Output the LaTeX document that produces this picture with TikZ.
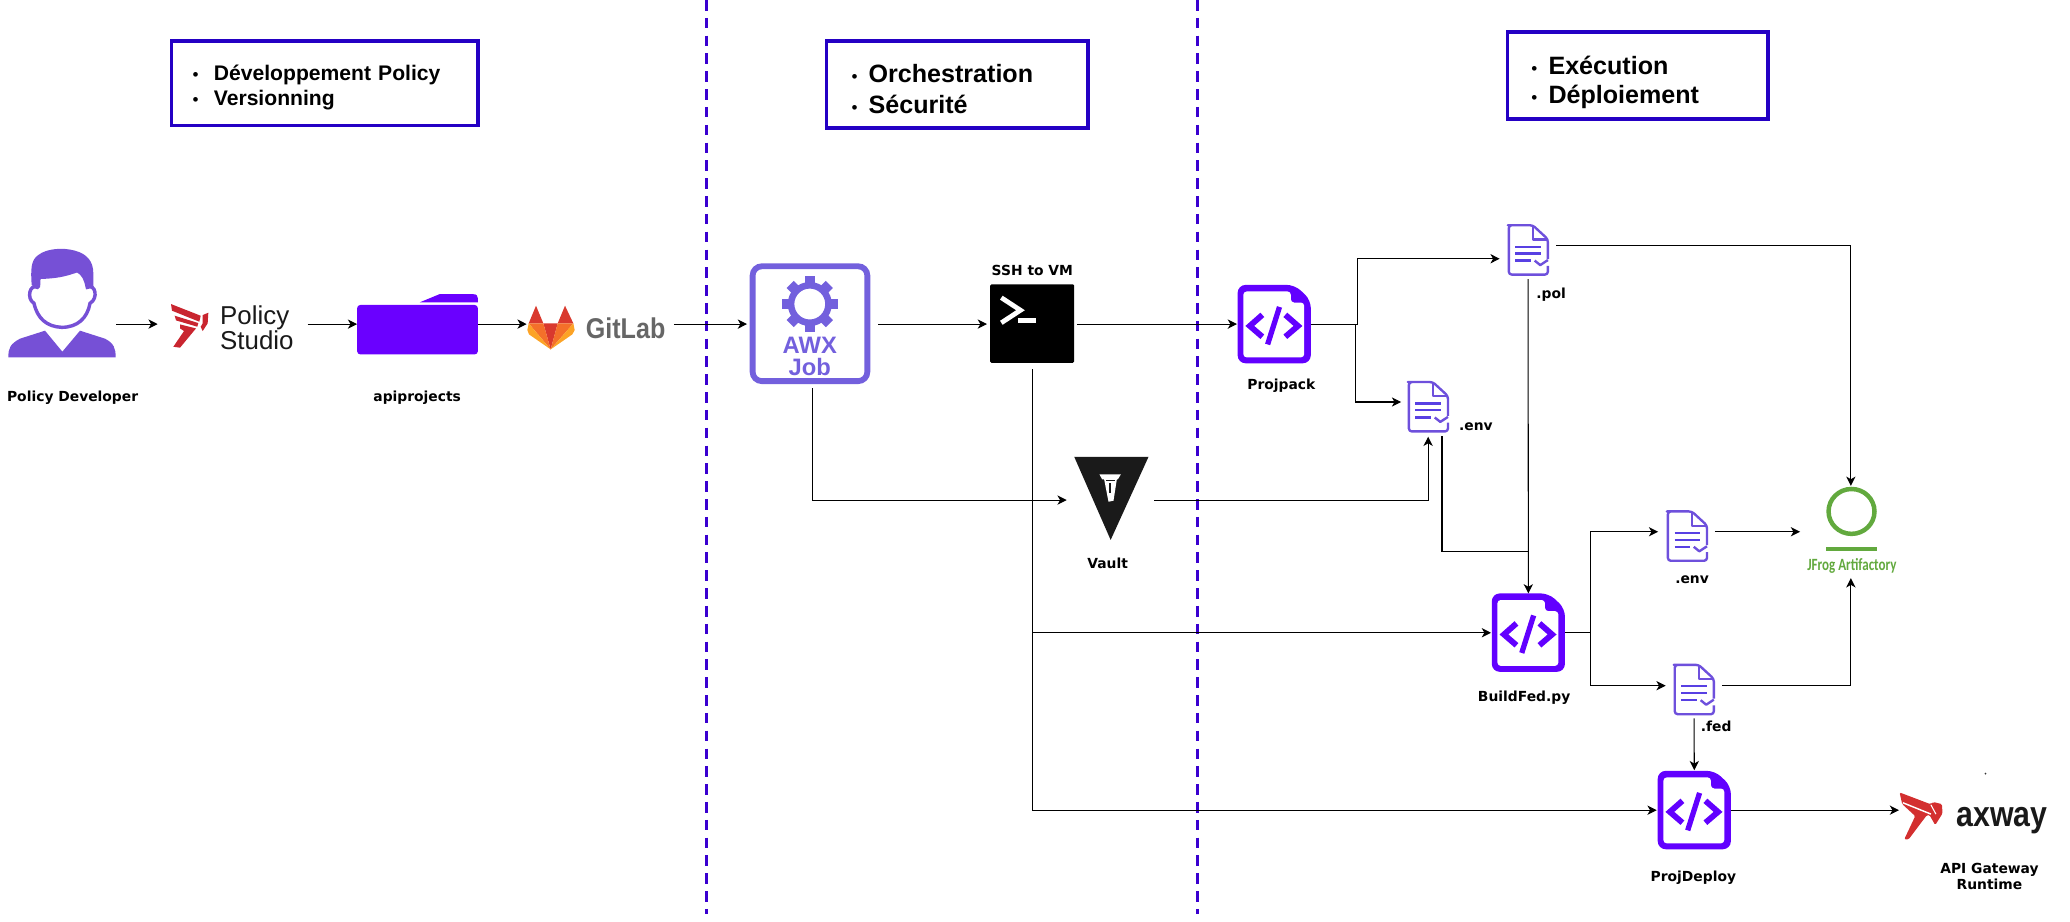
\documentclass[tikz,border=0pt]{standalone}
\usepackage{fontspec}
\usepackage{graphicx}
\setmainfont{Liberation Sans}
\newfontfamily\lblfont{DejaVu Sans}
\newfontfamily\carl{Carlito}
\usetikzlibrary{arrows.meta,calc}
\definecolor{dashc}{HTML}{3A00D0}
\definecolor{boxc}{HTML}{2400C4}
\definecolor{awxc}{HTML}{7360DD}
\definecolor{personc}{HTML}{7650D6}
\definecolor{docc}{HTML}{6E50DC}
\definecolor{codec}{HTML}{6200FF}
\definecolor{folderc}{HTML}{6A00FF}
\definecolor{redc}{HTML}{C9252F}
\definecolor{axred}{HTML}{D32F2F}
\definecolor{frogc}{HTML}{62A93E}
\definecolor{glearc}{HTML}{D9392E}
\definecolor{glmidc}{HTML}{F4702A}
\definecolor{gllowc}{HTML}{FCA326}
\definecolor{vaultc}{HTML}{1A1A1A}
\newcommand{\hbul}[1]{\makebox[#1][l]{\normalfont\fontsize{13}{1}\selectfont\textbullet}}
\tikzset{
 conn/.style={draw=black,line width=0.8pt,-{Stealth[length=7pt,width=7pt,inset=2pt]}},
 plainconn/.style={draw=black,line width=0.8pt},
 sep/.style={draw=dashc,line width=2.3pt,dash pattern=on 8pt off 5.5pt},
 hdr/.style={draw=boxc,line width=2.8pt,align=left,inner ysep=0pt,outer sep=0pt,anchor=north west},
 iconbox/.style={inner sep=0pt,outer sep=0pt,draw=none,anchor=center},
 lbl/.style={font=\lblfont\bfseries\fontsize{10.5}{12.6}\selectfont,inner sep=0pt,align=center,text=black},
 redlogo/.style={x=0.2525pt,y=-0.2525pt},
}
\newcommand{\fileicon}[2]{%
 \node[iconbox,minimum width=31pt,minimum height=38.6pt] (#1) at (#2) {};
 \begin{scope}[shift={(#1.center)}]
  \draw[docc,line width=1.8pt,line join=round,rounded corners=2.2pt]
    (15,6.8) -- (15,-8.2) -- (3.5,-18.8) -- (-13.2,-18.8) -- (-14.6,-18.8) -- (-14.6,18.6) -- (15,18.6) -- (15,12);
  \draw[docc,line width=1.7pt,line join=round] (3.6,-18.6) -- (3.6,-8) -- (15,-8);
  \draw[docc!80!blue,line width=1.7pt] (-9.6,-2.5) -- (9.7,-2.5) (-9.6,2.6) -- (9.7,2.6) (-9.6,8) -- (2,8);
  \draw[docc,line width=1.8pt,line join=round] (5,8) -- (9.2,11.4) -- (15,7.6);
 \end{scope}}
\newcommand{\codeicon}[2]{%
 \node[iconbox,minimum width=55.4pt,minimum height=59.4pt] (#1) at (#2) {};
 \begin{scope}[shift={(#1.center)}]
  \fill[codec,rounded corners=6pt] (-27.7,-29.7) -- (15.5,-29.7) -- (27.7,-18.3) -- (27.7,29.7) -- (-27.7,29.7) -- cycle;
  \fill[white,rounded corners=2.5pt] (-23.4,-24.7) -- (12.6,-24.7) -- (12.6,-16.3) -- (22.7,-16.3) -- (22.7,25.2) -- (-23.4,25.2) -- cycle;
  \draw[codec,line width=4.4pt,miter limit=4] (-9,-7) -- (-18.5,1.4) -- (-9,9.6);
  \draw[codec,line width=4.4pt,miter limit=4] (8.4,-7) -- (18,1.4) -- (8.4,9.6);
  \draw[codec,line width=4pt] (4,-13) -- (-5,15.4);
 \end{scope}}
\begin{document}
\begin{tikzpicture}[x=1pt,y=-1pt]
\useasboundingbox (0,0) rectangle (1568,697.7);
% rails for the connectors
\coordinate (railA) at (0,245.5);
\coordinate (railV) at (0,378.8);
\coordinate (railB) at (0,479.3);
\coordinate (railC) at (0,402.8);
\coordinate (railD) at (0,519.4);
\coordinate (railE) at (0,613.7);
\coordinate (jpol) at (1028,196);
\coordinate (jenv) at (1027,304.5);
\coordinate (jmerge) at (1157.5,417.7);
\coordinate (envout) at (1092.3,330.3);
\coordinate (awxout) at (615.7,294);
\coordinate (jb) at (1204.8,479.3);
\coordinate (polrail) at (0,186);
% separators
\coordinate (sepAt) at (535.5,0); \coordinate (sepAb) at (535.5,692);
\coordinate (sepBt) at (907,0);   \coordinate (sepBb) at (907,692);
\draw[sep] (sepAt) -- (sepAb);
\draw[sep] (sepBt) -- (sepBb);
% header boxes
\node[hdr,minimum width=232pt,minimum height=64pt,text width=208pt,inner xsep=12pt,font=\bfseries\fontsize{16}{19}\selectfont] (hA) at (130,31)
 {\rule{0pt}{18.5pt}\hspace{4pt}\hbul{16pt}Développement Policy\\\hspace{4pt}\hbul{16pt}Versionning};
\node[hdr,minimum width=198pt,minimum height=66pt,text width=174pt,inner xsep=12pt,font=\bfseries\fontsize{19}{23}\selectfont] (hB) at (626,31)
 {\rule{0pt}{20.5pt}\hspace{7pt}\hbul{13pt}Orchestration\\\hspace{7pt}\hbul{13pt}Sécurité};
\node[hdr,minimum width=197pt,minimum height=66pt,text width=173pt,inner xsep=12pt,font=\bfseries\fontsize{19}{22.4}\selectfont] (hC) at (1142,24)
 {\rule{0pt}{24.5pt}\hspace{6pt}\hbul{13pt}Exécution\\\hspace{6pt}\hbul{13pt}Déploiement};
% person
\node[iconbox,minimum width=82pt,minimum height=88pt] (person) at (47,232) {};
\begin{scope}[shift={(0,181.8)},redlogo]
 \fill[personc] (95,135) .. controls (92,90) and (92,60) .. (115,45) .. controls (140,25) and (190,22) .. (225,32)
   .. controls (262,42) and (280,65) .. (280,100) -- (280,148) -- (262,148) .. controls (260,115) and (250,95) .. (232,88)
   .. controls (205,98) and (185,108) .. (122,108) .. controls (115,118) and (118,130) .. (115,148) -- cycle;
 \filldraw[fill=white,draw=personc,line width=2.6pt] (118,112) .. controls (112,125) and (120,140) .. (112,142)
   .. controls (90,130) and (78,175) .. (102,190) .. controls (112,235) and (140,260) .. (185,262)
   .. controls (232,262) and (262,235) .. (270,190) .. controls (296,175) and (286,130) .. (262,142)
   .. controls (258,120) and (250,100) .. (232,92) .. controls (205,100) and (185,110) .. (118,112) -- cycle;
 \fill[personc] (25,352) .. controls (25,325) and (30,312) .. (60,296) -- (135,272) -- (187,335) -- (240,272) -- (315,296)
   .. controls (342,310) and (347,325) .. (347,352) -- cycle;
\end{scope}
\node[lbl] (personL) at (55,301) {Policy Developer};
% policy studio
\node[iconbox,minimum width=94.5pt,minimum height=36pt] (ps) at (176.7,247.5) {};
\begin{scope}[shift={(121.2,223.5)},redlogo]
 \fill[redc] (33,27) -- (122,62) -- (118,80) -- (36,47) -- cycle;
 \fill[redc] (44,62) -- (115,84) -- (112,95) -- (48,76) -- cycle;
 \fill[redc] (128,60) -- (145,53) -- (143,85) -- (128,108) -- (122,95) -- (128,85) -- cycle;
 \fill[redc] (60,88) -- (108,100) -- (60,158) -- (40,155) -- (72,108) -- (60,100) -- cycle;
\end{scope}
\node[inner sep=0pt,anchor=west,align=left,text=black!90,font=\fontsize{19.6}{19}\selectfont] (psT) at (166.6,248) {Policy\\Studio};
% folder
\node[iconbox,minimum width=91.5pt,minimum height=37.5pt] (folder) at (316.25,249.75) {};
\fill[folderc,rounded corners=2.5pt] (270.5,268.5) -- (270.5,231) -- (362,231) -- (362,268.5) -- cycle;
\fill[folderc] (318,229) -- (333,222.8) -- (358,222.8) .. controls (361,222.8) and (362,224) .. (362,226) -- (362,229) -- cycle;
\node[lbl] (folderL) at (316,301) {apiprojects};
% gitlab
\node[iconbox,minimum width=104.5pt,minimum height=33pt] (gitlab) at (452.2,248.4) {};
\begin{scope}[shift={(393.9,223.5)},redlogo]
 \fill[glearc] (48,32) -- (26,85) -- (70,85) -- cycle;
 \fill[glearc] (135,32) -- (113,85) -- (160,85) -- cycle;
 \fill[glearc] (70,85) -- (113,85) -- (92,163) -- cycle;
 \fill[glmidc] (26,85) -- (70,85) -- (92,163) -- cycle;
 \fill[glmidc] (160,85) -- (113,85) -- (92,163) -- cycle;
 \fill[gllowc] (26,85) -- (22,105) -- (27,118) -- (92,163) -- cycle;
 \fill[gllowc] (160,85) -- (164,105) -- (157,118) -- (92,163) -- cycle;
\end{scope}
\node[inner sep=0pt,anchor=west,text=black!60,font=\bfseries\fontsize{19}{19}\selectfont] (gitT) at (443.6,249) {\scalebox{1}[1.14]{GitLab}};
% AWX
\node[iconbox,minimum width=91.3pt,minimum height=91.4pt] (awx) at (613.5,245.2) {};
\draw[awxc,line width=4.4pt,rounded corners=7pt] (570.1,201.7) rectangle (657,288.7);
\begin{scope}[shift={(613.4,230.3)}]
 \foreach \a in {0,45,...,315} {\fill[awxc,rotate=\a] (-3.8,-21) rectangle (3.8,-13);}
 \draw[awxc,line width=5pt] (0,0) circle (14.2pt);
\end{scope}
\node[inner sep=0pt,font=\bfseries\fontsize{18}{18}\selectfont,text=awxc] (awxT) at (613.4,261.5) {AWX};
\node[inner sep=0pt,font=\bfseries\fontsize{18}{18}\selectfont,text=awxc] (awxU) at (613.4,278) {Job};
% SSH
\node[iconbox,fill=black,minimum width=63.7pt,minimum height=59.4pt,rounded corners=1pt] (ssh) at (781.85,245.1) {};
\draw[white,line width=3.6pt,miter limit=3] (758.5,225.5) -- (773,235) -- (758.5,244.5);
\fill[white] (771.4,241) rectangle (784.4,245);
\node[lbl] (sshL) at (782,204.5) {SSH to VM};
% projpack etc.
\codeicon{projpack}{965.2,245.5}
\node[lbl] (projpackL) at (970.6,292) {Projpack};
\codeicon{buildfed}{1157.7,479.2}
\node[lbl] (buildfedL) at (1154.5,528.5) {BuildFed.py};
\codeicon{projdeploy}{1283.4,613.6}
\node[lbl] (projdeployL) at (1282.7,664.5) {ProjDeploy};
\fileicon{pol}{1157.5,189.4}
\node[lbl] (polL) at (1175,223) {.pol};
\fileicon{envA}{1081.8,308.2}
\node[lbl] (envAL) at (1118,323) {.env};
\fileicon{envB}{1278,406.2}
\node[lbl] (envBL) at (1281.7,438.9) {.env};
\fileicon{fed}{1283.2,522.4}
\node[lbl] (fedL) at (1300,550) {.fed};
% vault
\node[iconbox,minimum width=56.3pt,minimum height=63pt] (vault) at (841.85,377.5) {};
\fill[vaultc] (813.7,346) -- (870,346) -- (841.3,409) -- cycle;
\begin{scope}[shift={(818.2,348.5)},redlogo]
 \fill[white] (58,43) -- (122,43) -- (113,58) -- (110,58) -- (100,122) -- (85,125) -- (72,58) -- (66,58) -- cycle;
 \fill[vaultc] (78,59) rectangle (104,63);
 \fill[vaultc] (88,68) rectangle (93,100);
\end{scope}
\node[lbl] (vaultL) at (839,426.5) {Vault};
% jfrog
\node[iconbox,minimum width=69pt,minimum height=66.3pt] (jfrog) at (1402,401.85) {};
\draw[frogc,line width=3.4pt] (1402.5,387.4) ellipse (17.4pt and 17pt);
\fill[frogc] (1383.4,414) rectangle (1421.6,417.7);
\node[inner sep=0pt,text=frogc,font=\carl\bfseries\fontsize{13}{13}\selectfont] (jfrogT) at (1402.8,428.5) {\scalebox{0.76}[1]{JFrog Artifactory}};
% axway
\node[iconbox,minimum width=112pt,minimum height=37pt] (axway) at (1495,618) {};
\begin{scope}[shift={(1431.8,590.9)},redlogo]
 \fill[axred,rounded corners=1pt] (28,37) -- (120,72) -- (130,66) -- (155,72) -- (157,100) -- (135,135) -- (118,105) -- (110,105) -- (55,178) -- (42,178) -- (75,108) -- (36,72) -- cycle;
 \draw[white,line width=1.1pt] (38,68) -- (122,102);
 \draw[white,line width=0.8pt] (122,74) -- (137,102);
\end{scope}
\node[inner sep=0pt,font=\bfseries\fontsize{27}{27}\selectfont,text=black!90] (axT) at (1516.5,621.5) {\scalebox{0.85}[1]{axway}};
\node[lbl,align=center] (axL) at (1507,664) {API Gateway\\Runtime};
\fill[black!80] (1504,586) circle (0.7pt);
% connectors
\draw[conn,shorten >=10pt] (person.east|-railA) -- (ps.west|-railA);
\draw[conn,shorten <=9pt] (ps.east|-railA) -- (folder.west|-railA);
\draw[conn,shorten >=1pt] (folder.east|-railA) -- (gitlab.west|-railA);
\draw[conn,shorten <=6pt,shorten >=2pt] (gitlab.east|-railA) -- (awx.west|-railA);
\draw[conn,shorten <=6pt,shorten >=2.4pt] (awx.east|-railA) -- (ssh.west|-railA);
\draw[conn,shorten <=2.3pt,shorten >=0.5pt] (ssh.east|-railA) -- (projpack.west|-railA);
\draw[conn,shorten >=6pt] (projpack.east|-railA) -| (jpol) -- (pol.west|-jpol);
\draw[conn,shorten >=5pt] (projpack.east|-railA) -| (jenv) -- (envA.west|-jenv);
\draw[conn,shorten <=5.8pt,shorten >=0.7pt] (pol.east|-polrail) -| (jfrog.north);
\draw[conn,shorten <=2.8pt] (pol.south) -- (buildfed.north);
\draw[plainconn] (envout) |- (jmerge);
\draw[conn,shorten >=5.7pt] (awxout) |- (vault.west|-railV);
\draw[conn,shorten <=4.3pt,shorten >=3.3pt] (vault.east|-railV) -| (envA.south);
\draw[conn,shorten <=5pt,shorten >=0.6pt] (ssh.south) |- (buildfed.west|-railB);
\draw[conn,shorten <=5pt,shorten >=0.8pt] (ssh.south) |- (projdeploy.west|-railE);
\draw[conn,shorten >=6.5pt] (buildfed.east|-railB) -- (jb) |- (envB.west|-railC);
\draw[conn,shorten >=6pt] (jb) |- (fed.west|-railD);
\draw[conn,shorten <=5.5pt,shorten >=4pt] (envB.east|-railC) -- (jfrog.west|-railC);
\draw[conn,shorten <=5.7pt,shorten >=3pt] (fed.east|-railD) -| (jfrog.south);
\draw[conn,shorten <=2.5pt,shorten >=0.5pt] (fed.south) -- (projdeploy.north);
\draw[conn,shorten >=0.5pt] (projdeploy.east|-railE) -- (axway.west|-railE);
\end{tikzpicture}
\end{document}
